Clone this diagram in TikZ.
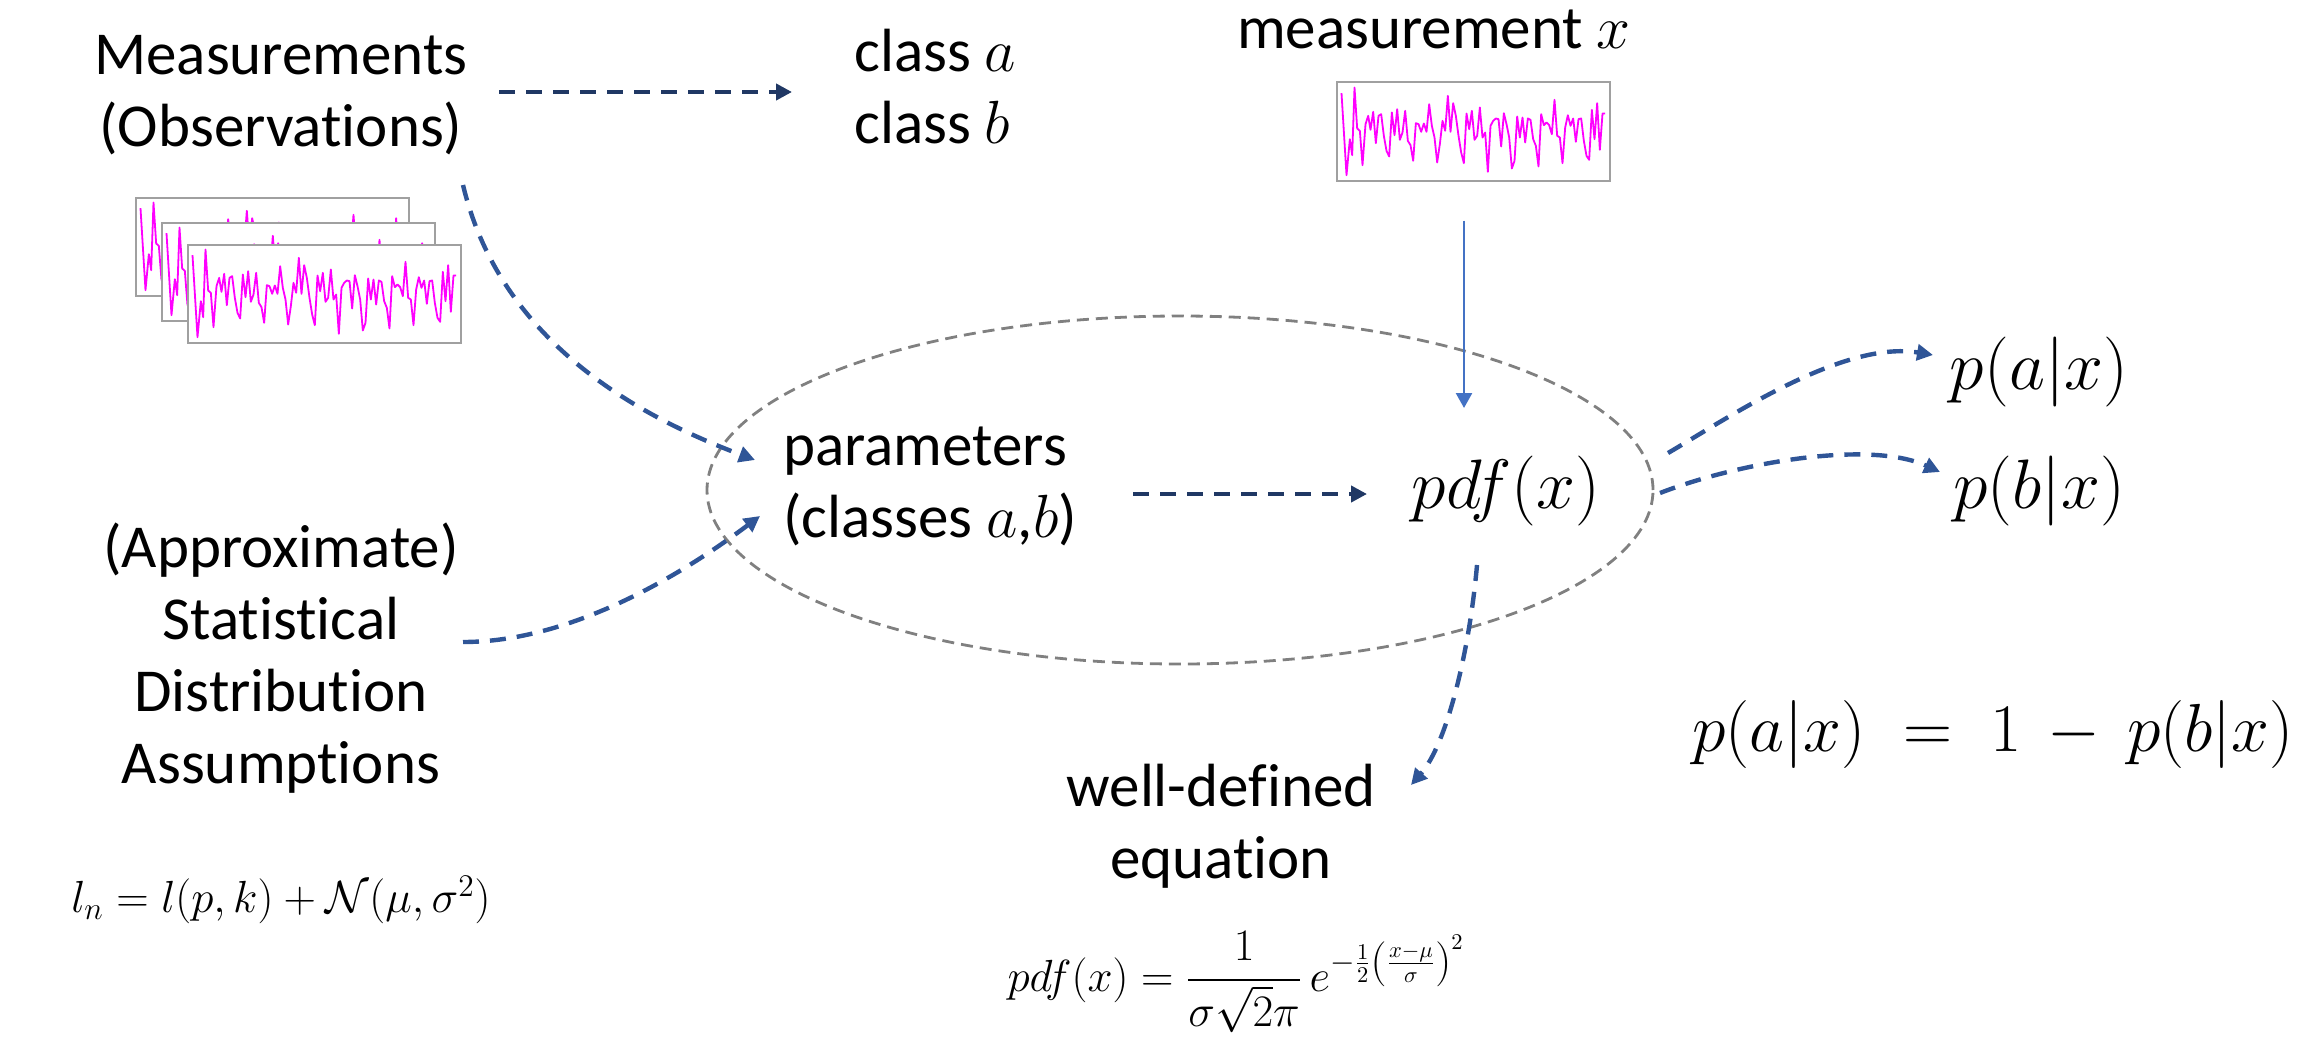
\documentclass[tikz,border=0pt]{standalone}
\usepackage{fix-cm}
\usepackage{amsmath}
\usepackage{fontspec}
\setmainfont{Carlito}[Ligatures=NoCommon]
\usetikzlibrary{arrows.meta,calc}
\definecolor{arrblue}{HTML}{2F5597}
\definecolor{navyc}{HTML}{203864}
\definecolor{solblue}{HTML}{4472C4}
\definecolor{elgray}{HTML}{808080}
\definecolor{boxgray}{HTML}{A0A0A0}
\definecolor{sigmag}{HTML}{FF00FF}
\tikzset{
  txt/.style={inner sep=0pt, font=\fontsize{30.5}{36}\selectfont, align=center},
  mathbig/.style={inner sep=0pt, font=\fontsize{35}{40}\selectfont},
  sigbox/.style={draw=boxgray, line width=1pt, fill=white, minimum width=136.5pt, minimum height=49pt, inner sep=0pt, outer sep=0pt},
  flow/.style={draw=arrblue, line width=2.2pt, dash pattern=on 8pt off 5.5pt, -{Triangle[length=8pt,width=8pt]}},
  navyflow/.style={draw=navyc, line width=2.2pt, dash pattern=on 8pt off 5.5pt, -{Triangle[length=8pt,width=8pt]}},
  solidflow/.style={draw=solblue, line width=1.3pt, -{Triangle[length=7.5pt,width=8pt]}},
  grpstyle/.style={draw=elgray, line width=1.4pt, dash pattern=on 6pt off 3.5pt},
  sigline/.pic={\draw[sigmag, line width=0.9pt, line join=round] plot coordinates {(15,32) (30,278) (40,170) (47,218) (54,15) (62,138) (70,145) (78,248) (87,125) (95,100) (102,142) (110,88) (118,182) (126,100) (134,95) (142,160) (150,205) (158,222) (166,90) (174,158) (182,80) (190,172) (198,150) (206,85) (214,175) (222,188) (230,235) (238,122) (246,125) (254,148) (262,123) (270,148) (278,65) (286,130) (294,165) (302,240) (310,185) (318,115) (326,145) (334,40) (342,148) (350,62) (358,100) (366,160) (374,210) (382,242) (390,93) (398,140) (406,85) (414,172) (422,160) (430,75) (438,165) (446,150) (454,268) (462,130) (470,115) (478,108) (486,110) (494,192) (502,92) (510,125) (518,165) (526,258) (534,235) (542,102) (550,165) (558,105) (566,180) (574,108) (582,112) (590,170) (598,190) (606,252) (614,95) (622,128) (630,120) (638,128) (646,155) (654,52) (662,160) (670,165) (678,242) (686,135) (694,98) (702,130) (710,108) (718,178) (726,110) (734,108) (742,175) (750,220) (758,232) (766,82) (774,170) (782,62) (790,202) (798,93) (806,93)};}
}
\begin{document}
\begin{tikzpicture}[x=0.5pt,y=-0.5pt]
\useasboundingbox (0,0) rectangle (2321,1038);
% group ellipse
\draw[grpstyle] (1180,490) ellipse [x radius=236.5pt, y radius=87pt];
% texts
\node[txt] (meas) at (281,95) {Measurements\\(Observations)};
\node[txt, anchor=west, align=left] (cls) at (854,87) {class $a$\\class $b$};
\node[txt, anchor=base] (mtitle) at (1434,49) {measurement $x$};
\node[sigbox] (mbox) at (1473,131.5) {};
\pic[scale=1/3] at (mbox.north west) {sigline};
\node[sigbox] (s1) at (272,246.5) {};
\pic[scale=1/3] at (s1.north west) {sigline};
\node[sigbox] (s2) at (298,271.5) {};
\pic[scale=1/3] at (s2.north west) {sigline};
\node[sigbox] (s3) at (324,293.5) {};
\pic[scale=1/3] at (s3.north west) {sigline};
\node[txt, anchor=west, align=left] (params) at (783,486) {parameters\\(classes $a$,$b$)};
\node[mathbig] (pdf) at (1506,491) {$pdf(x)$};
\node[mathbig] (pa) at (2039,372) {$p(a|x)$};
\node[mathbig] (pb) at (2039,491) {$p(b|x)$};
\node[txt] (stat) at (281,658) {(Approximate)\\Statistical\\Distribution\\Assumptions};
\node[inner sep=0pt, font=\fontsize{22.5}{27}\selectfont] (ln) at (281,900) {$l_n = l(p,k) + \mathcal{N}(\mu,\sigma^2)$};
\node[txt] (well) at (1221,826) {well-defined\\equation};
\node[inner sep=0pt, font=\fontsize{22.5}{27}\selectfont] (pdfeq) at (1236,982) {$\displaystyle pdf(x)=\frac{1}{\sigma\sqrt{2}\pi}\,e^{-\frac{1}{2}\left(\frac{x-\mu}{\sigma}\right)^2}$};
\node[inner sep=0pt, font=\fontsize{34}{40}\selectfont] (eq) at (1993,734) {$p(a|x) \;=\; 1 \,-\, p(b|x)$};
% connectors
\draw[navyflow] ($(meas.center)+(218,-3)$) -- ($(cls.west)+(-62,5)$);
\draw[flow] ($(meas.center)+(182,90)$) .. controls (500,340) and (635,415) .. ($(params.west)+(-28,-26)$);
\draw[flow] ($(stat.center)+(182,-16)$) .. controls (570,642) and (680,576) .. ($(params.west)+(-23,30)$);
\draw[navyflow] ($(params.west)+(350,8)$) -- ($(pdf.center)+(-139,3)$);
\draw[solidflow] ($(mbox.south)+(-9,40)$) -- ($(pdf.center)+(-42,-83)$);
\draw[flow] ($(pdf.center)+(162,-38)$) .. controls (1728,418) and (1843,340) .. ($(pa.center)+(-106,-17)$);
\draw[flow] ($(pdf.center)+(154,2)$) .. controls (1740,462) and (1870,440) .. ($(pb.center)+(-99,-19)$);
\draw[flow] ($(pdf.center)+(-29,74)$) .. controls (1469,655) and (1446,745) .. ($(well.center)+(190,-41)$);
\end{tikzpicture}
\end{document}
